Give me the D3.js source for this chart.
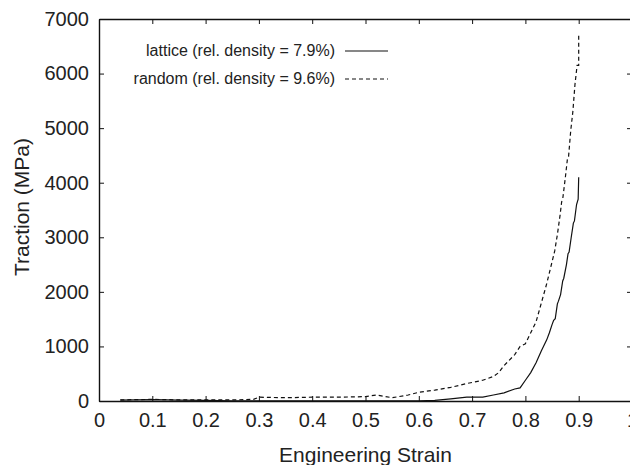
<!DOCTYPE html>
<html lang="en">
<head>
    <meta charset="UTF-8">
    <title>Traction vs strain</title>
    <script src="https://cdn.jsdelivr.net/npm/d3@7/dist/d3.min.js"></script>
    <style>
        body { margin: 0; background: #fff; }
        text { font-family: "Liberation Sans", Arial, sans-serif; fill: #222; }
    </style>
</head>
<body>
<svg width="630" height="465" id="main"></svg>
<script>
    // lattice (solid)
    let latticeStrain = [0.04, 0.1, 0.15, 0.2, 0.25, 0.3, 0.35, 0.4, 0.45, 0.5, 0.55, 0.6, 0.63, 0.66, 0.69, 0.72,
        0.74, 0.76, 0.78, 0.79, 0.8, 0.81, 0.82, 0.83, 0.84, 0.845, 0.85, 0.853, 0.856, 0.86, 0.862, 0.866,
        0.87, 0.872, 0.877, 0.88, 0.882, 0.886, 0.89, 0.892, 0.896, 0.899, 0.9];
    let latticeTraction = [15, 25, 15, 10, 5, 5, 5, 5, 5, 5, 5, 5, 10, 40, 70, 70,
        110, 150, 220, 240, 380, 520, 700, 920, 1120, 1250, 1400, 1480, 1510, 1780, 1830, 1950,
        2200, 2250, 2500, 2700, 2730, 3000, 3260, 3300, 3600, 3700, 4100];
    // random (dashed)
    let randomStrain = [0.04, 0.1, 0.15, 0.2, 0.25, 0.29, 0.3, 0.35, 0.4, 0.45, 0.5, 0.52, 0.55, 0.58, 0.6, 0.63,
        0.66, 0.69, 0.72, 0.74, 0.75, 0.76, 0.78, 0.79, 0.8, 0.81, 0.82, 0.83, 0.84, 0.85, 0.855, 0.86,
        0.865, 0.868, 0.87, 0.875, 0.879, 0.881, 0.885, 0.889, 0.893, 0.897, 0.9, 0.9];
    let randomTraction = [20, 30, 20, 20, 20, 30, 70, 60, 70, 70, 80, 110, 60, 110, 160, 200,
        250, 320, 380, 450, 520, 650, 850, 1000, 1050, 1250, 1450, 1800, 2150, 2550, 2750, 3050,
        3400, 3650, 3700, 4100, 4450, 4480, 4950, 5300, 5800, 6150, 6150, 6700];

    let xTicks = [0, 0.1, 0.2, 0.3, 0.4, 0.5, 0.6, 0.7, 0.8, 0.9, 1];
    let yTicks = [0, 1000, 2000, 3000, 4000, 5000, 6000, 7000];
    let legendLabels = ['lattice (rel. density = 7.9%)', 'random (rel. density = 9.6%)'];

    let svg = d3.select('#main');
    let margin = {top: 19, left: 99};
    const innerWidth = 533;
    const innerHeight = 382;

    let xScale = d3.scaleLinear().domain([0, 1]).range([0, innerWidth]);
    let yScale = d3.scaleLinear().domain([0, 7000]).range([innerHeight, 0]);

    let g = svg.append('g').attr('transform', `translate(${margin.left}, ${margin.top})`);

    // inward ticks on all four sides
    let axBottom = g.append('g').attr('transform', `translate(0, ${innerHeight})`)
        .call(d3.axisBottom(xScale).tickValues(xTicks).tickSizeInner(-5).tickSizeOuter(0).tickPadding(12)
            .tickFormat(d3.format('')));
    let axTop = g.append('g')
        .call(d3.axisTop(xScale).tickValues(xTicks).tickSizeInner(-5).tickSizeOuter(0).tickFormat(''));
    let axLeft = g.append('g')
        .call(d3.axisLeft(yScale).tickValues(yTicks).tickSizeInner(-5).tickSizeOuter(0).tickPadding(10)
            .tickFormat(d3.format('')));
    let axRight = g.append('g').attr('transform', `translate(${innerWidth}, 0)`)
        .call(d3.axisRight(yScale).tickValues(yTicks).tickSizeInner(-5).tickSizeOuter(0).tickFormat(''));
    axTop.selectAll('.tick text').remove();
    axRight.selectAll('.tick text').remove();

    [axBottom, axTop, axLeft, axRight].forEach(a => {
        a.select('.domain').attr('stroke', '#111').attr('stroke-width', 1.4);
        a.selectAll('.tick line').attr('stroke', '#111');
        a.selectAll('.tick text').attr('font-size', '20px').attr('fill', '#222')
            .attr('font-family', '"Liberation Sans", Arial, sans-serif');
    });

    let line = d3.line().x(d => xScale(d[0])).y(d => yScale(d[1]));

    g.append('path').datum(d3.zip(latticeStrain, latticeTraction))
        .attr('d', line).attr('fill', 'none').attr('stroke', '#111').attr('stroke-width', 1.2);
    g.append('path').datum(d3.zip(randomStrain, randomTraction))
        .attr('d', line).attr('fill', 'none').attr('stroke', '#111').attr('stroke-width', 1.2)
        .attr('stroke-dasharray', '4,3');

    // legend
    legendLabels.forEach((label, i) => {
        let y = 32 + i * 28;
        g.append('text').text(label).attr('x', 236).attr('y', y + 5)
            .attr('text-anchor', 'end').attr('font-size', '16px');
        g.append('line').attr('x1', 246).attr('x2', 289).attr('y1', y).attr('y2', y)
            .attr('stroke', '#111').attr('stroke-width', 1.2)
            .attr('stroke-dasharray', i === 1 ? '4,3' : null);
    });

    svg.append('text').text('Engineering Strain')
        .attr('x', margin.left + innerWidth / 2).attr('y', 462)
        .attr('text-anchor', 'middle').attr('font-size', '21px');
    svg.append('text').text('Traction (MPa)')
        .attr('transform', 'translate(29, 207) rotate(-90)')
        .attr('text-anchor', 'middle').attr('font-size', '21px');
</script>
</body>
</html>
